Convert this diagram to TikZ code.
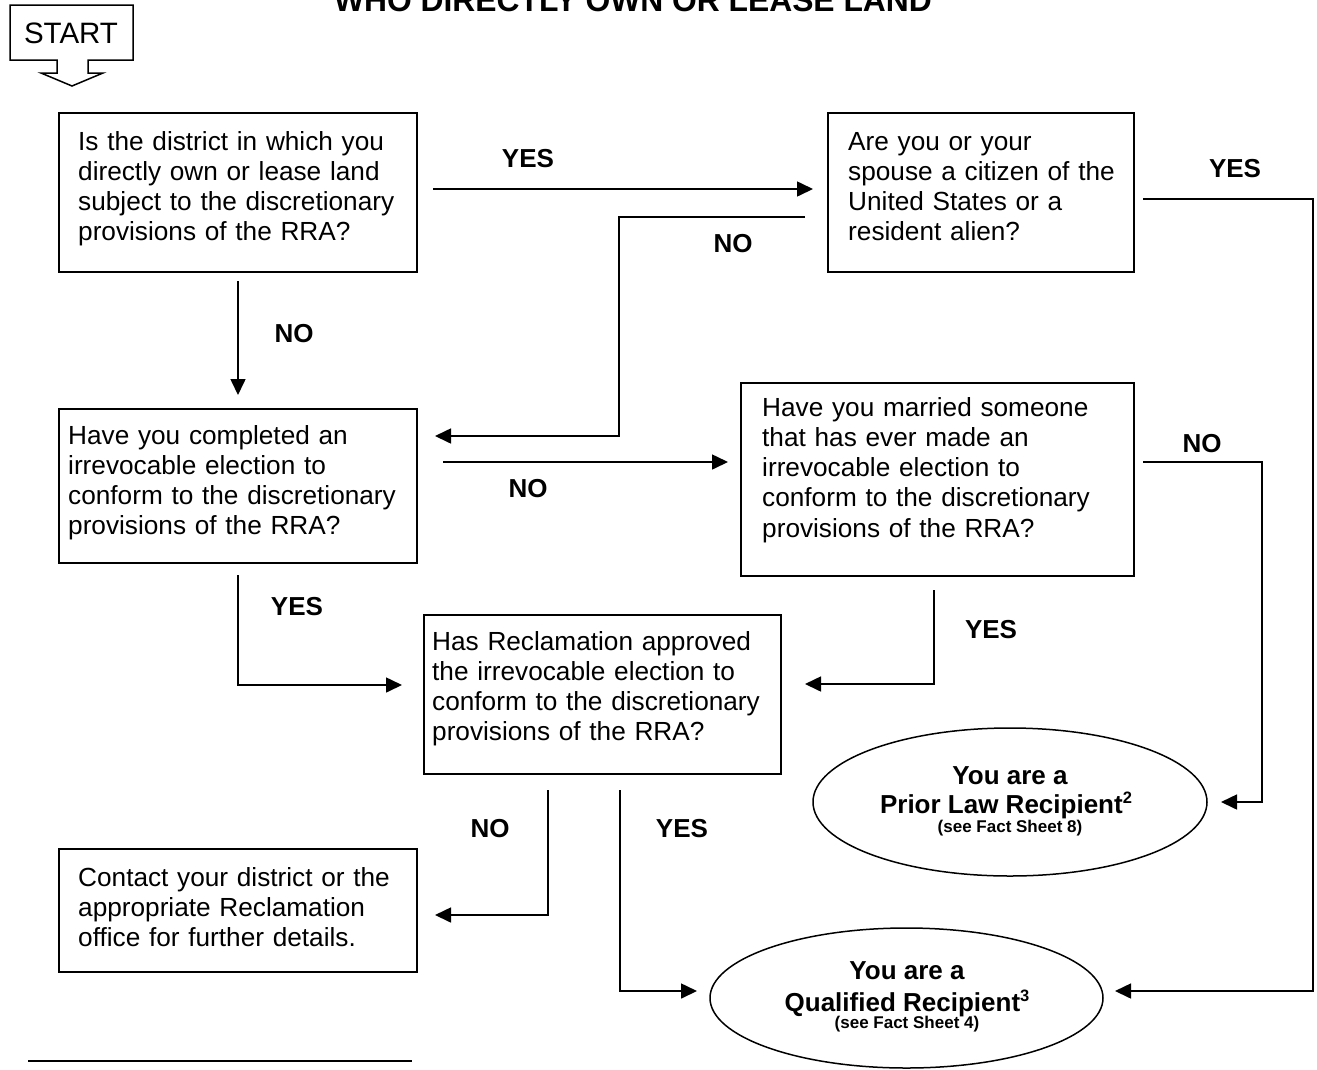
\documentclass[tikz,border=0pt]{standalone}
\usepackage{fontspec}
\setmainfont{Liberation Sans}
\usetikzlibrary{arrows.meta,shapes.geometric}
\newcommand\fst{\rule{0pt}{22pt}}
\newcommand\sups[1]{\raisebox{9.5pt}{\fontsize{16.5}{16.5}\selectfont #1}}
\begin{document}
\begin{tikzpicture}[x=1pt,y=-1pt,
  boxst/.style={draw, line width=1.5pt, inner sep=0pt, anchor=north west},
  txt/.style={anchor=north west, inner sep=0pt, align=left, text width=390pt, font=\fontsize{26.2}{30.2}\selectfont},
  lbl/.style={anchor=base, inner sep=0pt, font=\bfseries\fontsize{26}{30}\selectfont},
  small/.style={anchor=base, inner sep=0pt, font=\bfseries\fontsize{17}{17}\selectfont},
  conn/.style={line width=1.6pt, -{Triangle[length=16pt,width=15pt]}},
  plain/.style={line width=1.5pt},
  oval/.style={draw, ellipse, line width=1.5pt, inner sep=0pt},
]
\useasboundingbox (0,0) rectangle (1317,1069);

% title (cut off at top)
\node[anchor=base, inner sep=0pt, font=\bfseries\fontsize{31.8}{32}\selectfont] (title) at (633,11) {WHO DIRECTLY OWN OR LEASE LAND};

% START marker
\draw[plain] (10,5) -- (133,5) -- (133,60) -- (88,60) -- (88,73) -- (103,73) -- (72,86) -- (41,73) -- (57,73) -- (57,60) -- (10,60) -- cycle;
\node[anchor=base, inner sep=0pt, font=\fontsize{29.5}{29.5}\selectfont] (start) at (71,43) {START};

% boxes
\node[boxst, minimum width=358pt, minimum height=159pt] (b1) at (58,112) {};
\node[boxst, minimum width=306pt, minimum height=159pt] (b2) at (827,112) {};
\node[boxst, minimum width=358pt, minimum height=154pt] (b3) at (58,408) {};
\node[boxst, minimum width=393pt, minimum height=193pt] (b4) at (740,382) {};
\node[boxst, minimum width=357pt, minimum height=159pt] (b5) at (423,614) {};
\node[boxst, minimum width=358pt, minimum height=123pt] (b6) at (58,848) {};

\node[txt] (b1t) at (78,128) {\fst Is the district in which you\\ directly own or lease land\\ subject to the discretionary\\ provisions of the RRA?};
\node[txt] (b2t) at (848,128) {\fst Are you or your\\ spouse a citizen of the\\ United States or a\\ resident alien?};
\node[txt] (b3t) at (68,422) {\fst Have you completed an\\ irrevocable election to\\ conform to the discretionary\\ provisions of the RRA?};
\node[txt] (b4t) at (762,394) {\fst Have you married someone\\ that has ever made an\\ irrevocable election to\\ conform to the discretionary\\ provisions of the RRA?};
\node[txt] (b5t) at (432,628) {\fst Has Reclamation approved\\ the irrevocable election to\\ conform to the discretionary\\ provisions of the RRA?};
\node[txt] (b6t) at (78,864) {\fst Contact your district or the\\ appropriate Reclamation\\ office for further details.};

% outcome ellipses
\node[oval, minimum width=394pt, minimum height=148pt] (prior) at (1010,802) {};
\node[lbl] (p1) at (1010,784) {You are a};
\node[lbl] (p2) at (1006,813) {Prior Law Recipient\sups{2}};
\node[small] (p3) at (1010,832) {(see Fact Sheet 8)};

\node[oval, minimum width=393pt, minimum height=140pt] (qual) at (906.5,998) {};
\node[lbl] (q1) at (907,979) {You are a};
\node[lbl] (q2) at (907,1011) {Qualified Recipient\sups{3}};
\node[small] (q3) at (907,1028) {(see Fact Sheet 4)};

% connector end points
\coordinate (c1s) at (433,189);  \coordinate (c1e) at (813,189);
\coordinate (c2s) at (805,217);  \coordinate (c2a) at (619,217); \coordinate (c2b) at (619,436); \coordinate (c2e) at (435,436);
\coordinate (c3s) at (1143,199); \coordinate (c3a) at (1313,199); \coordinate (c3b) at (1313,991); \coordinate (c3e) at (1115,991);
\coordinate (c4s) at (238,281);  \coordinate (c4e) at (238,395);
\coordinate (c5s) at (443,462);  \coordinate (c5e) at (728,462);
\coordinate (c6s) at (1143,462); \coordinate (c6a) at (1262,462); \coordinate (c6b) at (1262,802); \coordinate (c6e) at (1221,802);
\coordinate (c7s) at (238,575);  \coordinate (c7a) at (238,685); \coordinate (c7e) at (402,685);
\coordinate (c8s) at (934,590);  \coordinate (c8a) at (934,684); \coordinate (c8e) at (805,684);
\coordinate (c9s) at (548,790);  \coordinate (c9a) at (548,915); \coordinate (c9e) at (435,915);
\coordinate (c10s) at (620,790); \coordinate (c10a) at (620,991); \coordinate (c10e) at (697,991);

\draw[conn] (c1s) -- (c1e);
\draw[conn] (c2s) -- (c2a) -- (c2b) -- (c2e);
\draw[conn] (c3s) -- (c3a) -- (c3b) -- (c3e);
\draw[conn] (c4s) -- (c4e);
\draw[conn] (c5s) -- (c5e);
\draw[conn] (c6s) -- (c6a) -- (c6b) -- (c6e);
\draw[conn] (c7s) -- (c7a) -- (c7e);
\draw[conn] (c8s) -- (c8a) -- (c8e);
\draw[conn] (c9s) -- (c9a) -- (c9e);
\draw[conn] (c10s) -- (c10a) -- (c10e);

% connector labels
\node[lbl] (l1) at (528,167.5) {YES};
\node[lbl] (l2) at (733,252) {NO};
\node[lbl] (l3) at (1235,177) {YES};
\node[lbl] (l4) at (294,342) {NO};
\node[lbl] (l5) at (528,497) {NO};
\node[lbl] (l6) at (1202,452) {NO};
\node[lbl] (l7) at (297,615) {YES};
\node[lbl] (l8) at (991,638) {YES};
\node[lbl] (l9) at (490,837) {NO};
\node[lbl] (l10) at (682,837) {YES};

% footnote rule
\coordinate (fn1) at (28,1061); \coordinate (fn2) at (412,1061);
\draw[plain] (fn1) -- (fn2);
\end{tikzpicture}
\end{document}
